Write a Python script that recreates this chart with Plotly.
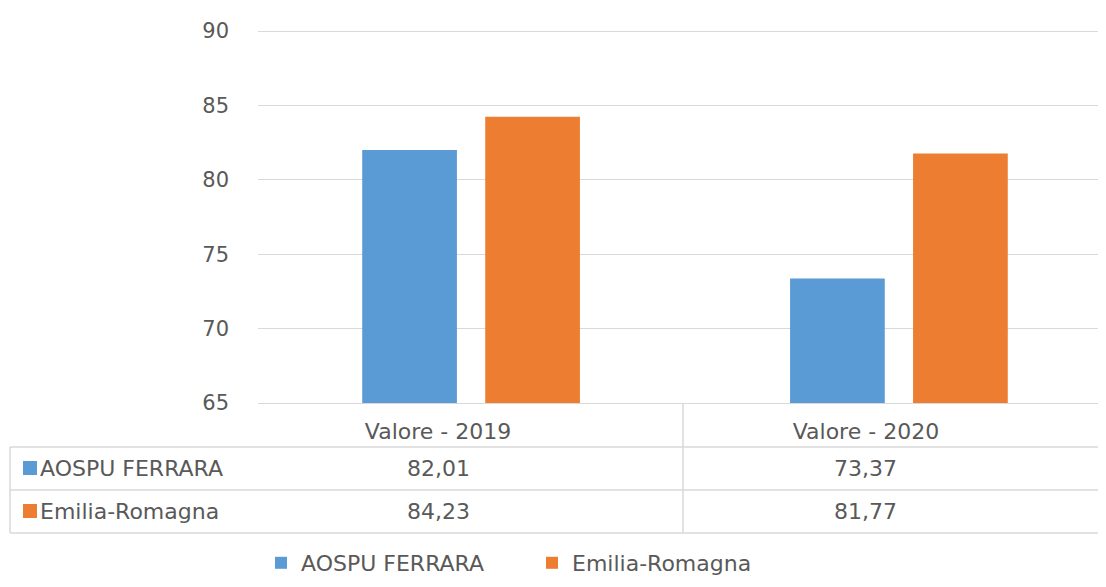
import plotly.graph_objects as go

categories = ["Valore - 2019", "Valore - 2020"]
series_names = ["AOSPU FERRARA", "Emilia-Romagna"]
aospu_values = [82.01, 73.37]
emilia_values = [84.23, 81.77]
y_ticks = [65, 70, 75, 80, 85, 90]

colors = ["#5B9BD5", "#ED7D31"]
text_color = "#595959"
grid_color = "#D9D9D9"
FONT = "DejaVu Sans"

# page body has an 8px margin: figure is drawn 8px right/down of the window origin
OFF = 8
W, H = 1106 - OFF, 587 - 2 * OFF
L, R_EDGE, TOP, BOT = 258, 1106, 29, 403   # in window pixel coordinates
PW, PH = R_EDGE - L, BOT - TOP
PX_PER_UNIT = (403 - 31) / 25.0
Y_TOP = 65 + (BOT - TOP) / PX_PER_UNIT


def px_x(x):
    return (x - L) / PW


def px_y(y):
    return (BOT - y) / PH


x_idx = list(range(len(categories)))
fig = go.Figure()
for name, vals, col in zip(series_names, [aospu_values, emilia_values], colors):
    fig.add_trace(go.Bar(x=x_idx, y=vals, name=name, marker=dict(color=col, line=dict(width=0))))

fig.update_layout(
    width=W, height=H,
    margin=dict(l=L - OFF, r=1106 - R_EDGE, t=TOP - OFF, b=(H + OFF) - BOT, pad=0, autoexpand=False),
    paper_bgcolor="white", plot_bgcolor="white",
    barmode="group", bargap=0.425, bargroupgap=0.23,
    font=dict(family=FONT, color=text_color, size=21),
    showlegend=True,
    legend=dict(orientation="h", x=px_x(261), xanchor="left", y=px_y(563), yanchor="middle",
                font=dict(size=22, color=text_color), entrywidth=226, entrywidthmode="pixels",
                itemclick=False, bgcolor="rgba(0,0,0,0)"),
)

fig.update_yaxes(range=[65, Y_TOP], tickvals=y_ticks, ticktext=[str(v) for v in y_ticks],
                 showgrid=True, gridcolor=grid_color, gridwidth=1, zeroline=False,
                 showline=False, ticks="", ticklabelstandoff=28,
                 tickfont=dict(size=21, color=text_color))
fig.update_xaxes(range=[-0.498, 1.484], tickvals=x_idx, ticktext=categories,
                 showgrid=False, zeroline=False, showline=True, linecolor=grid_color, linewidth=1,
                 ticks="", ticklabelshift=-33, ticklabelstandoff=9,
                 tickfont=dict(size=22, color=text_color))

# data table lines
line_style = dict(color=grid_color, width=1.5)
row_lines = [447, 490, 533]
for yy in row_lines:
    fig.add_shape(type="line", xref="paper", yref="paper", x0=px_x(10), x1=px_x(1104),
                  y0=px_y(yy), y1=px_y(yy), line=line_style)
fig.add_shape(type="line", xref="paper", yref="paper", x0=px_x(10), x1=px_x(10),
              y0=px_y(447), y1=px_y(533), line=line_style)
fig.add_shape(type="line", xref="paper", yref="paper", x0=px_x(683), x1=px_x(683),
              y0=px_y(403), y1=px_y(533), line=line_style)
fig.add_shape(type="line", xref="paper", yref="paper", x0=px_x(1103), x1=px_x(1103),
              y0=px_y(403), y1=px_y(533), line=dict(color="#EDEDED", width=1))

row_centers = [468, 511]
for name, vals, col, yc in zip(series_names, [aospu_values, emilia_values], colors, row_centers):
    fig.add_shape(type="rect", xref="paper", yref="paper", x0=px_x(23), x1=px_x(37),
                  y0=px_y(yc + 7), y1=px_y(yc - 7), fillcolor=col, line=dict(width=0))
    fig.add_annotation(text=name, xref="paper", yref="paper", x=px_x(38), y=px_y(yc),
                       xanchor="left", yanchor="middle", showarrow=False,
                       font=dict(size=22, color=text_color, family=FONT))
    for i, v in zip(x_idx, vals):
        fig.add_annotation(text=f"{v:.2f}".replace(".", ","), xref="x", yref="paper",
                           x=i, y=px_y(yc), xshift=-33, xanchor="center", yanchor="middle",
                           showarrow=False, font=dict(size=22, color=text_color, family=FONT))

fig.write_html("out.html")
